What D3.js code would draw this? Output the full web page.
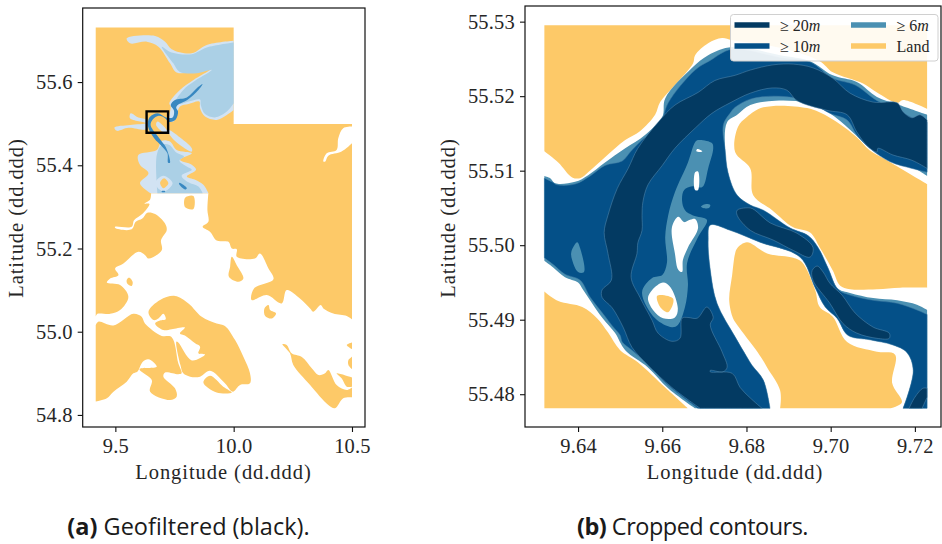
<!DOCTYPE html>
<html>
<head>
<meta charset="utf-8">
<title>Geofiltered and cropped contours</title>
<script src="https://d3js.org/d3.v7.min.js"></script>
<style>
    body { margin: 0; background: #fff; }
    svg { display: block; }
    text { font-family: "Liberation Serif", serif; fill: #262626; }
    .tick text { font-size: 20.5px; letter-spacing: 0.2px; }
    .tick line, .domain { stroke: #111; }
    .title { font-size: 20.5px; letter-spacing: 0.95px; }
    .caption, .caption tspan { font-family: "Open Sans", sans-serif; font-size: 23.5px; fill: #1a1a1a; }
    .legend text { font-size: 16px; }
</style>
</head>
<body>
<script>
// ---- overview panel (a): longitude, latitude
var northLand = [[9.417,55.731],[10.000,55.731],[10.000,55.499],[10.500,55.499],[10.500,55.030],[10.478,55.038],[10.421,55.044],[10.379,55.056],[10.368,55.064],[10.337,55.048],[10.323,55.056],[10.280,55.080],[10.224,55.100],[10.203,55.068],[10.140,55.088],[10.076,55.076],[10.086,55.104],[10.168,55.126],[10.147,55.152],[10.111,55.188],[10.090,55.176],[10.013,55.180],[10.013,55.198],[9.992,55.200],[9.978,55.216],[9.928,55.219],[9.900,55.240],[9.869,55.252],[9.893,55.264],[9.889,55.2925],[9.893,55.333],[9.651,55.333],[9.647,55.318],[9.623,55.308],[9.644,55.307],[9.616,55.284],[9.579,55.268],[9.569,55.252],[9.499,55.252],[9.499,55.249],[9.569,55.246],[9.586,55.264],[9.614,55.272],[9.635,55.286],[9.668,55.283],[9.710,55.260],[9.717,55.244],[9.693,55.220],[9.696,55.196],[9.640,55.176],[9.626,55.184],[9.597,55.192],[9.534,55.164],[9.499,55.152],[9.513,55.136],[9.478,55.128],[9.464,55.118],[9.520,55.112],[9.555,55.084],[9.520,55.052],[9.478,55.043],[9.424,55.043],[9.417,55.036]];
var southWestLand = [[9.417,55.016],[9.428,55.024],[9.492,55.015],[9.576,55.043],[9.611,55.036],[9.625,55.020],[9.696,54.990],[9.738,54.987],[9.766,54.924],[9.780,54.900],[9.766,54.898],[9.710,54.902],[9.703,54.892],[9.752,54.864],[9.759,54.844],[9.731,54.836],[9.647,54.856],[9.654,54.884],[9.602,54.910],[9.675,54.916],[9.640,54.934],[9.616,54.928],[9.593,54.904],[9.576,54.900],[9.548,54.880],[9.492,54.856],[9.464,54.840],[9.417,54.832]];
var middleLand = [[9.640,55.048],[9.689,55.076],[9.752,55.086],[9.809,55.068],[9.865,55.036],[9.928,55.020],[9.963,55.014],[10.006,54.980],[10.041,54.940],[10.069,54.900],[10.069,54.876],[10.027,54.872],[9.996,54.856],[9.963,54.876],[9.900,54.906],[9.858,54.892],[9.816,54.892],[9.787,54.900],[9.775,54.920],[9.758,54.976],[9.766,54.974],[9.823,54.931],[9.879,54.945],[9.851,54.948],[9.858,54.964],[9.837,54.972],[9.794,54.991],[9.773,54.996],[9.794,55.010],[9.738,55.006],[9.703,55.004],[9.668,55.020],[9.689,55.027],[9.713,55.030],[9.703,55.043],[9.682,55.032],[9.661,55.028]];
var southEastLand = [[10.206,54.970],[10.224,54.968],[10.245,54.948],[10.288,54.939],[10.330,54.912],[10.358,54.896],[10.386,54.900],[10.400,54.908],[10.435,54.872],[10.478,54.860],[10.500,54.866],[10.500,54.842],[10.463,54.840],[10.428,54.816],[10.400,54.824],[10.323,54.872],[10.252,54.920],[10.238,54.948]];
var smallLand = [
    [[9.872,54.878],[9.900,54.894],[9.956,54.868],[9.992,54.854],[9.928,54.854]],
    [[9.548,55.124],[9.559,55.130],[9.573,55.120],[9.569,55.110],[9.551,55.115]],
    [[9.992,55.180],[10.013,55.160],[10.041,55.128],[10.020,55.120],[9.980,55.132],[9.985,55.156]],
    [[10.130,55.056],[10.147,55.064],[10.154,55.052],[10.179,55.044],[10.161,55.032],[10.133,55.038]],
    [[10.478,54.968],[10.500,54.974],[10.500,54.958]],
    [[10.485,54.932],[10.500,54.940],[10.500,54.910],[10.485,54.920]],
    [[10.435,54.900],[10.500,54.890],[10.500,54.868],[10.478,54.868],[10.456,54.888]],
    [[9.795,55.322],[9.830,55.326],[9.830,55.295],[9.795,55.299]]
];
var inlandWhite = [
    [[10.500,55.493],[10.463,55.489],[10.442,55.465],[10.435,55.437],[10.393,55.429],[10.379,55.409],[10.387,55.409],[10.400,55.423],[10.456,55.433],[10.500,55.453]],
    [[9.935,55.613],[9.964,55.617],[9.956,55.610],[9.935,55.610]]
];
var shallowBays = [
    [[9.548,55.705],[9.668,55.711],[9.710,55.697],[9.738,55.679],[9.823,55.669],[9.886,55.689],[10.000,55.699],[10.000,55.533],[9.971,55.521],[9.928,55.509],[9.879,55.517],[9.858,55.537],[9.855,55.553],[9.809,55.547],[9.773,55.541],[9.759,55.521],[9.745,55.505],[9.728,55.509],[9.734,55.541],[9.728,55.549],[9.773,55.581],[9.830,55.605],[9.914,55.635],[9.844,55.626],[9.759,55.623],[9.731,55.645],[9.682,55.685],[9.633,55.697],[9.562,55.693]],
    [[9.496,55.491],[9.562,55.497],[9.630,55.501],[9.562,55.513],[9.565,55.525],[9.597,55.515],[9.633,55.509],[9.633,55.487],[9.555,55.490],[9.506,55.483]],
    [[9.724,55.485],[9.766,55.470],[9.823,55.441],[9.823,55.433],[9.773,55.449],[9.734,55.470]],
    [[9.678,55.505],[9.720,55.481],[9.711,55.477],[9.672,55.497]],
    [[9.696,55.459],[9.675,55.437],[9.597,55.425],[9.604,55.401],[9.640,55.381],[9.604,55.357],[9.649,55.333],[9.893,55.333],[9.872,55.353],[9.837,55.365],[9.802,55.373],[9.841,55.389],[9.823,55.401],[9.773,55.413],[9.823,55.429],[9.759,55.437],[9.731,55.457]]
];
var mainBays = [
    [[9.696,55.685],[9.738,55.671],[9.823,55.667],[9.886,55.683],[10.000,55.695],[10.000,55.549],[9.971,55.529],[9.921,55.515],[9.879,55.523],[9.861,55.545],[9.858,55.558],[9.809,55.553],[9.773,55.547],[9.752,55.549],[9.787,55.581],[9.837,55.603],[9.907,55.629],[9.844,55.621],[9.771,55.625],[9.745,55.645]],
    [[9.678,55.333],[9.675,55.425],[9.696,55.449],[9.728,55.449],[9.759,55.430],[9.790,55.421],[9.771,55.411],[9.802,55.397],[9.823,55.389],[9.780,55.375],[9.809,55.359],[9.851,55.349],[9.869,55.333]]
];
var islandRing = [[9.668,55.357],[9.703,55.375],[9.742,55.357],[9.703,55.337]];
var islandCore = [[9.689,55.358],[9.706,55.369],[9.724,55.357],[9.703,55.345]];
var deepChannels = [
    [[9.868,55.595],[9.851,55.581],[9.804,55.557],[9.769,55.547],[9.757,55.539],[9.765,55.529],[9.755,55.510],[9.728,55.504],[9.706,55.515],[9.683,55.519],[9.658,55.510],[9.649,55.497],[9.672,55.475],[9.696,55.457],[9.714,55.443],[9.731,55.406],[9.723,55.406],[9.720,55.429],[9.696,55.446],[9.664,55.465],[9.638,55.493],[9.644,55.515],[9.679,55.525],[9.714,55.515],[9.742,55.515],[9.748,55.531],[9.734,55.545],[9.752,55.557],[9.802,55.563],[9.844,55.585]],
    [[9.771,55.358],[9.802,55.345],[9.795,55.342],[9.769,55.355]],
    [[9.696,55.338],[9.710,55.338],[9.710,55.336],[9.696,55.336]]
];
var cropBox = [[9.632,55.5295],[9.7229,55.5295],[9.7229,55.4781],[9.632,55.4781]];

// ---- cropped panel (b): longitude, latitude
var landRings = [
    [[9.6320,55.5295],[9.7229,55.5295],[9.7229,55.5183],[9.7172,55.5195],[9.7158,55.5191],[9.7110,55.5205],[9.7077,55.5217],[9.7005,55.5232],[9.6974,55.5247],[9.6880,55.5265],[9.6766,55.5275],[9.6742,55.5278],[9.6709,55.5271],[9.6678,55.5255],[9.6673,55.5244],[9.6630,55.5215],[9.6595,55.5192],[9.6583,55.5175],[9.6547,55.5153],[9.6512,55.5141],[9.6464,55.5118],[9.6424,55.5098],[9.6405,55.5090],[9.6386,55.5091],[9.6353,55.5111],[9.6320,55.5126]],
    [[9.6840,55.5185],[9.6944,55.5184],[9.6998,55.5171],[9.7062,55.5145],[9.7093,55.5127],[9.7133,55.5114],[9.7229,55.5082],[9.7229,55.4943],[9.7165,55.4943],[9.7110,55.4941],[9.7046,55.4941],[9.7022,55.4946],[9.7005,55.4966],[9.6974,55.4997],[9.6951,55.5017],[9.6911,55.5024],[9.6861,55.5047],[9.6816,55.5067],[9.6809,55.5103],[9.6773,55.5125],[9.6780,55.5159],[9.6801,55.5172]],
    [[9.6801,55.5004],[9.6849,55.4989],[9.6911,55.4983],[9.6932,55.4977],[9.6963,55.4940],[9.6974,55.4917],[9.7005,55.4904],[9.7039,55.4870],[9.7110,55.4857],[9.7153,55.4853],[9.7146,55.4815],[9.7169,55.4789],[9.7141,55.4781],[9.6880,55.4781],[9.6880,55.4805],[9.6849,55.4836],[9.6827,55.4856],[9.6778,55.4893],[9.6768,55.4902],[9.6759,55.4926],[9.6766,55.4960],[9.6773,55.4989],[9.6778,55.4996]],
    [[9.6320,55.4938],[9.6353,55.4925],[9.6410,55.4917],[9.6445,55.4902],[9.6471,55.4883],[9.6500,55.4859],[9.6542,55.4843],[9.6607,55.4809],[9.6661,55.4781],[9.6320,55.4781]]
];
var depth6Ring = [[9.6320,55.5093],[9.6334,55.5090],[9.6346,55.5083],[9.6393,55.5085],[9.6424,55.5094],[9.6464,55.5111],[9.6512,55.5130],[9.6559,55.5148],[9.6600,55.5172],[9.6607,55.5197],[9.6671,55.5238],[9.6709,55.5255],[9.6766,55.5266],[9.6880,55.5255],[9.6951,55.5247],[9.7005,55.5228],[9.7062,55.5219],[9.7110,55.5199],[9.7158,55.5189],[9.7229,55.5175],[9.7229,55.5093],[9.7158,55.5117],[9.7093,55.5132],[9.7046,55.5155],[9.6998,55.5177],[9.6944,55.5191],[9.6868,55.5194],[9.6809,55.5188],[9.6778,55.5175],[9.6754,55.5165],[9.6749,55.5130],[9.6756,55.5098],[9.6778,55.5067],[9.6809,55.5054],[9.6840,55.5047],[9.6904,55.5023],[9.6946,55.5013],[9.6970,55.4997],[9.6994,55.4969],[9.7017,55.4942],[9.7046,55.4936],[9.7101,55.4929],[9.7158,55.4926],[9.7205,55.4920],[9.7229,55.4913],[9.7229,55.4781],[9.7172,55.4781],[9.7196,55.4832],[9.7181,55.4856],[9.7148,55.4866],[9.7093,55.4873],[9.7041,55.4879],[9.7015,55.4902],[9.6987,55.4917],[9.6963,55.4943],[9.6927,55.4984],[9.6832,55.5004],[9.6761,55.5020],[9.6714,55.5027],[9.6709,55.5007],[9.6714,55.4967],[9.6730,55.4922],[9.6773,55.4877],[9.6801,55.4850],[9.6813,55.4839],[9.6840,55.4819],[9.6856,55.4781],[9.6678,55.4781],[9.6614,55.4808],[9.6566,55.4836],[9.6512,55.4859],[9.6488,55.4882],[9.6457,55.4903],[9.6410,55.4942],[9.6400,55.4950],[9.6369,55.4957],[9.6341,55.4970],[9.6320,55.4979]];
var depth10Ring = [[9.6320,55.5090],[9.6338,55.5085],[9.6350,55.5081],[9.6393,55.5082],[9.6429,55.5093],[9.6464,55.5107],[9.6505,55.5113],[9.6524,55.5125],[9.6552,55.5141],[9.6595,55.5162],[9.6614,55.5191],[9.6678,55.5235],[9.6714,55.5248],[9.6766,55.5263],[9.6880,55.5252],[9.6951,55.5246],[9.7005,55.5224],[9.7058,55.5215],[9.7110,55.5194],[9.7153,55.5184],[9.7193,55.5171],[9.7229,55.5165],[9.7229,55.5098],[9.7193,55.5103],[9.7141,55.5112],[9.7093,55.5130],[9.7062,55.5148],[9.7039,55.5168],[9.6998,55.5177],[9.6944,55.5194],[9.6868,55.5200],[9.6809,55.5196],[9.6773,55.5185],[9.6761,55.5177],[9.6747,55.5165],[9.6744,55.5154],[9.6749,55.5130],[9.6756,55.5098],[9.6778,55.5067],[9.6809,55.5054],[9.6840,55.5047],[9.6904,55.5023],[9.6946,55.5013],[9.6970,55.4997],[9.6994,55.4969],[9.7017,55.4941],[9.7046,55.4933],[9.7101,55.4926],[9.7158,55.4922],[9.7205,55.4913],[9.7229,55.4907],[9.7229,55.4781],[9.7172,55.4781],[9.7196,55.4832],[9.7181,55.4856],[9.7148,55.4866],[9.7093,55.4873],[9.7041,55.4879],[9.7015,55.4902],[9.6987,55.4917],[9.6963,55.4943],[9.6927,55.4984],[9.6832,55.5004],[9.6761,55.5020],[9.6714,55.5027],[9.6709,55.5007],[9.6714,55.4967],[9.6730,55.4922],[9.6773,55.4877],[9.6801,55.4850],[9.6813,55.4839],[9.6840,55.4819],[9.6856,55.4781],[9.6685,55.4781],[9.6614,55.4812],[9.6566,55.4840],[9.6528,55.4859],[9.6505,55.4870],[9.6500,55.4879],[9.6481,55.4892],[9.6462,55.4906],[9.6429,55.4930],[9.6405,55.4953],[9.6369,55.4961],[9.6341,55.4974],[9.6320,55.4983]];
var centralShoal = [[9.6685,55.5141],[9.6718,55.5137],[9.6721,55.5130],[9.6709,55.5103],[9.6695,55.5078],[9.6671,55.5079],[9.6652,55.5074],[9.6647,55.5060],[9.6654,55.5047],[9.6673,55.5040],[9.6706,55.5034],[9.6685,55.5011],[9.6659,55.4976],[9.6661,55.4946],[9.6654,55.4917],[9.6637,55.4893],[9.6623,55.4890],[9.6583,55.4902],[9.6552,55.4937],[9.6576,55.4956],[9.6600,55.4960],[9.6611,55.4976],[9.6607,55.5011],[9.6614,55.5040],[9.6630,55.5071],[9.6661,55.5111],[9.6678,55.5138]];
var smallShoals = [
    [[9.6692,55.5052],[9.6702,55.5055],[9.6714,55.5054],[9.6711,55.5050],[9.6697,55.5050]],
    [[9.6398,55.5004],[9.6405,55.4996],[9.6414,55.4964],[9.6400,55.4964],[9.6386,55.4980],[9.6384,55.4991]]
];
var depth20Rings = [
    [[9.6690,55.4781],[9.6623,55.4809],[9.6566,55.4839],[9.6528,55.4863],[9.6507,55.4890],[9.6481,55.4916],[9.6457,55.4930],[9.6457,55.4940],[9.6479,55.4953],[9.6471,55.4989],[9.6462,55.5017],[9.6471,55.5040],[9.6493,55.5076],[9.6519,55.5103],[9.6542,55.5130],[9.6590,55.5165],[9.6630,55.5188],[9.6685,55.5205],[9.6725,55.5221],[9.6773,55.5228],[9.6809,55.5235],[9.6863,55.5242],[9.6911,55.5243],[9.6958,55.5238],[9.7005,55.5224],[9.7046,55.5204],[9.7101,55.5192],[9.7158,55.5191],[9.7172,55.5179],[9.7193,55.5171],[9.7212,55.5175],[9.7229,55.5168],[9.7229,55.5103],[9.7193,55.5114],[9.7148,55.5121],[9.7112,55.5130],[9.7110,55.5125],[9.7089,55.5132],[9.7062,55.5152],[9.7039,55.5175],[9.6991,55.5181],[9.6920,55.5194],[9.6896,55.5208],[9.6861,55.5211],[9.6809,55.5204],[9.6761,55.5191],[9.6718,55.5177],[9.6678,55.5157],[9.6630,55.5130],[9.6600,55.5107],[9.6566,55.5081],[9.6554,55.5058],[9.6552,55.5040],[9.6552,55.5020],[9.6542,55.5003],[9.6540,55.4989],[9.6526,55.4957],[9.6547,55.4930],[9.6576,55.4899],[9.6590,55.4882],[9.6623,55.4871],[9.6642,55.4875],[9.6647,55.4902],[9.6661,55.4903],[9.6683,55.4902],[9.6706,55.4917],[9.6721,55.4903],[9.6714,55.4893],[9.6742,55.4857],[9.6754,55.4836],[9.6744,55.4830],[9.6714,55.4832],[9.6714,55.4830],[9.6766,55.4828],[9.6785,55.4809],[9.6809,55.4795],[9.6837,55.4781]],
    [[9.6778,55.5047],[9.6809,55.5050],[9.6820,55.5047],[9.6856,55.5030],[9.6920,55.5016],[9.6958,55.4997],[9.6951,55.4984],[9.6911,55.4993],[9.6863,55.5007],[9.6809,55.5020],[9.6778,55.5040]],
    [[9.6968,55.4972],[9.6982,55.4964],[9.6998,55.4949],[9.7027,55.4933],[9.7058,55.4909],[9.7101,55.4890],[9.7139,55.4882],[9.7139,55.4875],[9.7110,55.4875],[9.7062,55.4882],[9.7029,55.4895],[9.6998,55.4922],[9.6958,55.4953],[9.6956,55.4966]],
    [[9.7186,55.4781],[9.7200,55.4796],[9.7219,55.4808],[9.7229,55.4808],[9.7229,55.4796],[9.7217,55.4781]]
];
var whiteHoles = [
    [[9.6638,55.5038],[9.6652,55.5031],[9.6666,55.5034],[9.6678,55.5035],[9.6685,55.5023],[9.6661,55.4997],[9.6649,55.4980],[9.6647,55.4964],[9.6638,55.4967],[9.6630,55.4989],[9.6623,55.5024]],
    [[9.6683,55.5129],[9.6695,55.5126],[9.6692,55.5125],[9.6681,55.5126]],
    [[9.6678,55.5098],[9.6685,55.5099],[9.6685,55.5074],[9.6678,55.5074]],
    [[9.6576,55.4940],[9.6602,55.4950],[9.6619,55.4944],[9.6637,55.4915],[9.6630,55.4903],[9.6602,55.4902],[9.6578,55.4913],[9.6566,55.4929]]
];
var landIsland = [[9.6588,55.4932],[9.6626,55.4928],[9.6614,55.4910],[9.6595,55.4917]];

// ticks and legend
var xTicksA = [9.5, 10.0, 10.5];
var yTicksA = [54.8, 55.0, 55.2, 55.4, 55.6];
var xTicksB = [9.64, 9.66, 9.68, 9.70, 9.72];
var yTicksB = [55.48, 55.49, 55.50, 55.51, 55.52, 55.53];
var legendLabels = ["20", "10", "6", "Land"];

var LAND = "#fdc968", SHALLOW = "#d2e3f3", MAINBAY = "#abd0e6", DEEP = "#3888c1";
var D6 = "#4b90b2", D10 = "#045088", D20 = "#033a62";

var w = 942, h = 544;
var svg = d3.select("body").append("svg").attr("width", w).attr("height", h);

// rings are smoothed, except where they run along the cut edge of the data
function panel(xDom, yDom, left, right, top, bottom, edgeLons, edgeLats) {
    var x = d3.scaleLinear().domain(xDom).range([left, right]);
    var y = d3.scaleLinear().domain(yDom).range([bottom, top]);
    var curve = d3.line().x(function(d) { return x(d[0]); }).y(function(d) { return y(d[1]); })
        .curve(d3.curveCatmullRomClosed.alpha(0.5));
    var line = function(ring) {
        var pts = [];
        ring.forEach(function(d) {
            pts.push(d);
            if (edgeLons.indexOf(d[0]) >= 0 || edgeLats.indexOf(d[1]) >= 0) pts.push(d);
        });
        return curve(pts);
    };
    return { x: x, y: y, line: line, g: svg.append("g") };
}

function fillRings(p, rings, color, outline) {
    var sel = p.g.append("g").selectAll("path").data(rings).enter().append("path")
        .attr("d", p.line)
        .attr("fill", color);
    if (outline) sel.attr("stroke", outline).attr("stroke-width", 0.5);
}

function axes(p, xTicks, yTicks, fmt, bottom, left, top, right) {
    p.g.append("g").attr("transform", "translate(0," + bottom + ")")
        .call(d3.axisBottom(p.x).tickValues(xTicks).tickSize(5).tickSizeOuter(0).tickPadding(6).tickFormat(d3.format(fmt)));
    p.g.append("g").attr("transform", "translate(" + left + ",0)")
        .call(d3.axisLeft(p.y).tickValues(yTicks).tickSize(5).tickSizeOuter(0).tickPadding(5).tickFormat(d3.format(fmt)));
    p.g.append("rect").attr("x", left).attr("y", top)
        .attr("width", right - left).attr("height", bottom - top)
        .attr("fill", "none").attr("stroke", "#111").attr("stroke-width", 1.2);
    p.g.selectAll(".domain").remove();
    p.g.selectAll(".tick text").attr("font-family", null);
    p.g.selectAll(".tick line").attr("stroke-width", 1.1);
}

function titles(cx, xLabelY, yLabelX, cy) {
    svg.append("text").attr("class", "title").attr("x", cx).attr("y", xLabelY)
        .attr("text-anchor", "middle").text("Longitude (dd.ddd)");
    svg.append("text").attr("class", "title").attr("text-anchor", "middle")
        .attr("transform", "translate(" + yLabelX + "," + cy + ") rotate(-90)").text("Latitude (dd.ddd)");
}

// ---- panel a
var a = panel([9.362, 10.555], [54.771, 55.778], 82.7, 365, 8, 427, [9.417, 10.000, 10.500], [55.731, 55.499, 55.333]);
fillRings(a, [northLand, southWestLand, middleLand, southEastLand], LAND);
fillRings(a, smallLand, LAND);
fillRings(a, inlandWhite, "#fff");
fillRings(a, shallowBays, SHALLOW);
fillRings(a, mainBays, MAINBAY);
fillRings(a, [islandRing], SHALLOW);
fillRings(a, [islandCore], LAND);
fillRings(a, deepChannels, DEEP);
var boxLine = d3.line().x(function(d) { return a.x(d[0]); }).y(function(d) { return a.y(d[1]); }).curve(d3.curveLinearClosed);
a.g.append("path").attr("d", boxLine(cropBox)).attr("fill", "none").attr("stroke", "#000").attr("stroke-width", 2.4);
axes(a, xTicksA, yTicksA, ".1f", 427, 82.7, 8, 365);
titles(223.5, 479, 23, 218);

// ---- panel b
var b = panel([9.6274, 9.7262], [55.4756, 55.5321], 525, 941, 6, 427, [9.6320, 9.7229], [55.5295, 55.4781]);
fillRings(b, landRings, LAND);
fillRings(b, [depth6Ring], D6);
fillRings(b, [depth10Ring], D10, "#3f7ba4");
fillRings(b, [centralShoal], D6);
fillRings(b, smallShoals, D6);
fillRings(b, depth20Rings, D20, "#5b8fb3");
fillRings(b, whiteHoles, "#fff");
fillRings(b, [landIsland], LAND);
axes(b, xTicksB, yTicksB, ".2f", 427, 525, 6, 941);
titles(735, 479, 455, 218);

// ---- legend
var legend = svg.append("g").attr("class", "legend");
legend.append("rect").attr("x", 730.5).attr("y", 14.5).attr("width", 207.5).attr("height", 46.5)
    .attr("rx", 3).attr("fill", "#fff").attr("fill-opacity", 0.9).attr("stroke", "#d0d0d0");
var legendX = d3.scaleOrdinal().domain([0, 1]).range([734.5, 851]);
var legendY = d3.scaleOrdinal().domain([0, 1]).range([25, 46]);
[D20, D10, D6, LAND].forEach(function(c, i) {
    var col = i < 2 ? 0 : 1, row = i % 2;
    legend.append("line")
        .attr("x1", legendX(col)).attr("x2", legendX(col) + 35)
        .attr("y1", legendY(row)).attr("y2", legendY(row))
        .attr("stroke", c).attr("stroke-width", 5.5);
    var t = legend.append("text").attr("x", legendX(col) + 45.5).attr("y", legendY(row) + 5.5);
    if (legendLabels[i] === "Land") {
        t.text("Land");
    } else {
        t.append("tspan").text("\u2265 " + legendLabels[i]);
        t.append("tspan").attr("font-style", "italic").text("m");
    }
});

// ---- captions
function caption(cx, tag, body, spacing) {
    var t = svg.append("text").attr("class", "caption").attr("x", cx).attr("y", 535)
        .attr("text-anchor", "middle").style("letter-spacing", spacing + "px");
    t.append("tspan").attr("font-weight", "bold").text(tag + " ");
    t.append("tspan").text(body);
}
caption(188.5, "(a)", "Geofiltered (black).", 0);
caption(692.5, "(b)", "Cropped contours.", -0.5);
</script>
</body>
</html>
